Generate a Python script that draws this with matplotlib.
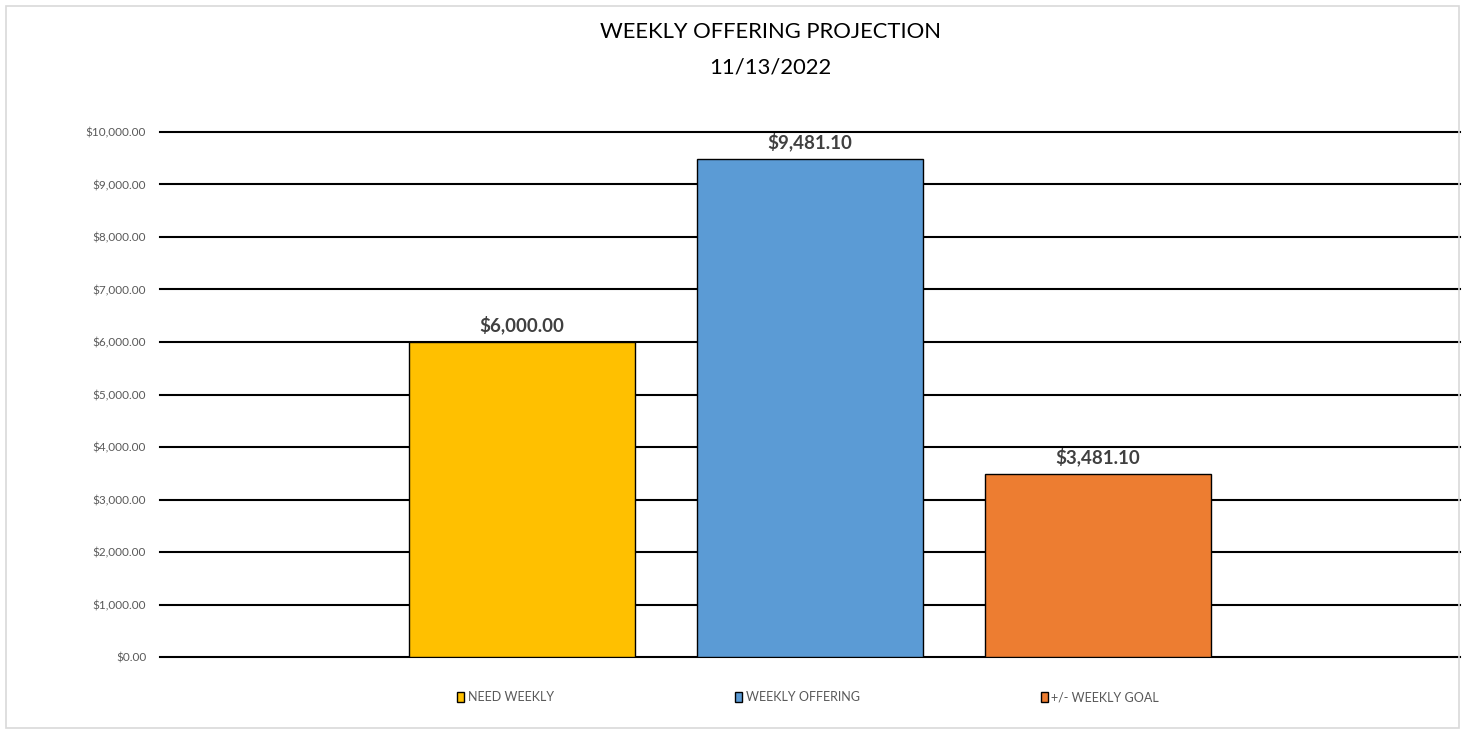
import matplotlib
matplotlib.use("Agg")
import matplotlib.pyplot as plt
from matplotlib.patches import Rectangle
from matplotlib.ticker import FuncFormatter, MultipleLocator

categories = ["NEED WEEKLY", "WEEKLY OFFERING", "+/- WEEKLY GOAL"]
values = [6000.00, 9481.10, 3481.10]
colors = ["#FFC000", "#5B9BD5", "#ED7D31"]
title_lines = ["WEEKLY OFFERING PROJECTION", "11/13/2022"]

W, H = 1463, 730
fig = plt.figure(figsize=(W / 100, H / 100), dpi=100)
plt.rcParams['font.family'] = ['Lato', 'DejaVu Sans']

# chart border
fig.patches.append(Rectangle((6 / W, 1 - 728 / H), (1459 - 6) / W, (728 - 6) / H,
                             transform=fig.transFigure, fill=False,
                             edgecolor="#D9D9D9", linewidth=1.2))

left, right, top, bottom = 160, 1460, 132, 657
ax = fig.add_axes([left / W, 1 - bottom / H, (right - left) / W, (bottom - top) / H])

x = list(range(len(values)))
bars = ax.bar(x, values, width=0.788, color=colors, edgecolor="black", linewidth=1.0,
              zorder=3, label=None)
half = (right - left) / 288 / 2
ax.set_xlim(1 - half, 1 + half)
ax.set_ylim(0, 10000)
ax.yaxis.set_major_locator(MultipleLocator(1000))
ax.yaxis.set_major_formatter(FuncFormatter(lambda v, p: "${:,.2f}".format(v)))
ax.grid(axis="y", color="black", linewidth=1.5, zorder=0)
for gl in ax.get_ygridlines():
    gl.set_clip_on(False)
ax.set_axisbelow(True)
for s in ax.spines.values():
    s.set_visible(False)
ax.tick_params(axis="y", length=0, pad=10, labelsize=8.5, labelcolor="#595959")
ax.tick_params(axis="x", length=0, labelbottom=False)

for b, v in zip(bars, values):
    ax.annotate("${:,.2f}".format(v), (b.get_x() + b.get_width() / 2, v),
                xytext=(0, 5.5), textcoords="offset points", ha="center", va="bottom",
                fontsize=13.5, fontweight="bold", color="#404040")

fig.text(770 / W, 1 - 32 / H, title_lines[0], ha="center", va="center",
         fontsize=15.8, color="black")
fig.text(770 / W, 1 - 67 / H, title_lines[1], ha="center", va="center",
         fontsize=15.8, color="black")

handles = [Rectangle((0, 0), 1, 1, facecolor=c, edgecolor="black", linewidth=1.0) for c in colors]
leg = fig.legend(handles, categories, loc="center", bbox_to_anchor=(808 / W, 1 - 697 / H),
                 ncol=3, frameon=False, fontsize=9, handlelength=0.6, handleheight=0.9,
                 handletextpad=0.25, columnspacing=14.5)
for t in leg.get_texts():
    t.set_color("#595959")

fig.savefig("out.png", dpi=100)
